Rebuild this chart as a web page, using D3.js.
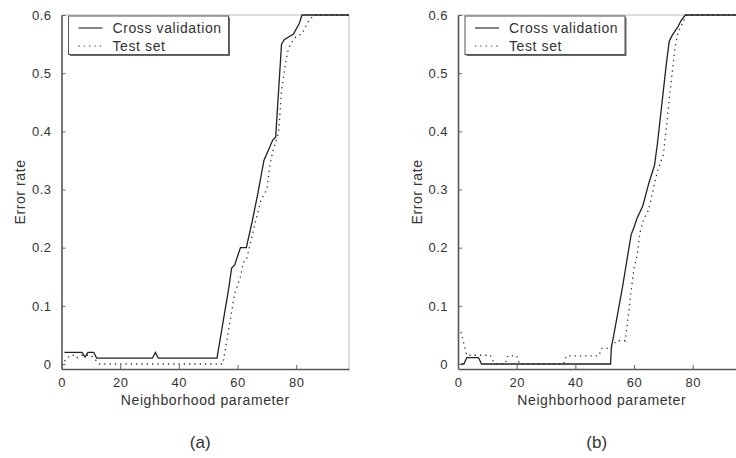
<!DOCTYPE html>
<html>
<head>
<meta charset="utf-8">
<script src="https://cdn.jsdelivr.net/npm/d3@7"></script>
<style>
  body { margin: 0; background: #fff; }
  svg { display: block; }
  text { font-family: "Liberation Sans", Arial, Helvetica, sans-serif; fill: #333; }
</style>
</head>
<body>
<svg id="chart" width="736" height="458"></svg>
<script>
// neighborhood parameter vs error rate
var xTicks = [0, 20, 40, 60, 80],
    yTicks = [0, 0.1, 0.2, 0.3, 0.4, 0.5, 0.6],
    seriesNames = ["Cross validation", "Test set"],
    captions = ["(a)", "(b)"];

// panel (a)
var cvA = [[1,0.02],[7,0.02],[8,0.012],[9,0.02],[11,0.02],[12,0.01],[31,0.01],[32,0.02],[33,0.01],
  [53,0.01],[57,0.13],[58,0.165],[59,0.17],[61,0.2],[63,0.2],[65,0.245],[67,0.295],[69,0.35],
  [72,0.385],[73,0.39],[74,0.47],[75,0.55],[76,0.558],[79,0.567],[81,0.585],[82,0.6],[98,0.6]];
var testA = [[1,0.005],[3,0.015],[4,0.015],[5,0.01],[7,0.015],[10,0.015],[13,0],[55,0],[57,0.06],
  [59,0.12],[61,0.15],[62,0.175],[63,0.178],[66,0.242],[68,0.282],[70,0.3],[71,0.34],[72,0.365],
  [74,0.398],[75,0.47],[76,0.505],[77,0.535],[78,0.55],[80,0.563],[82,0.568],[84,0.588],[86,0.6],[98,0.6]];

// panel (b)
var cvB = [[1,0],[2,0],[3,0.011],[7,0.011],[8,0],[52,0],[52.3,0.03],[53,0.047],[56,0.13],[59,0.222],
  [60,0.235],[61,0.25],[63,0.272],[65,0.31],[67,0.342],[68,0.38],[69,0.425],[70,0.47],[71,0.515],
  [72,0.555],[73,0.565],[75,0.58],[76,0.59],[77.5,0.6],[98,0.6]];
var testB = [[1,0.055],[2,0.035],[3,0.015],[11,0.015],[12,0.005],[13,0],[16,0],[17,0.014],[20,0.014],
  [21,0],[36,0],[37,0.014],[48,0.014],[49,0.027],[52,0.027],[54,0.04],[57,0.04],[58,0.08],[59,0.125],
  [60,0.165],[61,0.185],[62,0.225],[63,0.245],[65,0.265],[66,0.288],[67,0.31],[68,0.332],[70,0.36],
  [71,0.405],[72,0.455],[73,0.5],[74,0.545],[75,0.57],[76,0.58],[77,0.591],[78,0.6],[98,0.6]];

var svg = d3.select("#chart");

var panels = [
  { left: 61.5, cv: cvA, test: testA },
  { left: 458, cv: cvB, test: testB }
];

var plotTop = 15, plotBottom = 369, plotW = 287.5;
var yFmt = function(d){ return d === 0 ? "0" : d3.format(".1f")(d); };

panels.forEach(function(p, i){
  var x = d3.scaleLinear().domain([0, 98]).range([p.left, p.left + plotW]);
  var y = d3.scaleLinear().domain([-0.0086, 0.6]).range([plotBottom, plotTop]);
  var g = svg.append("g");

  // light box edges (top, right)
  g.append("line").attr("x1", x(0)).attr("x2", x(98)).attr("y1", plotTop).attr("y2", plotTop)
    .attr("stroke", "#bbb").attr("stroke-width", 1);
  g.append("line").attr("x1", x(98)).attr("x2", x(98)).attr("y1", plotTop).attr("y2", plotBottom)
    .attr("stroke", "#bbb").attr("stroke-width", 1);

  var yAxis = g.append("g")
    .attr("transform", "translate(" + x(0) + ",0)")
    .call(d3.axisLeft(y).tickValues(yTicks).tickFormat(yFmt).tickSize(-4).tickSizeOuter(0).tickPadding(10));
  var xAxis = g.append("g")
    .attr("transform", "translate(0," + plotBottom + ")")
    .call(d3.axisBottom(x).tickValues(xTicks).tickSize(-4).tickSizeOuter(0).tickPadding(9));

  [yAxis, xAxis].forEach(function(a){
    a.select(".domain").attr("stroke", "#555").attr("stroke-width", 1.6);
    a.selectAll(".tick line").attr("stroke", "#666");
    a.selectAll(".tick text").attr("fill", "#333")
      .style("font-family", "'Liberation Sans', Arial, sans-serif")
      .style("font-size", "13px").style("letter-spacing", "0.5px");
  });

  var line = d3.line().x(function(d){ return x(d[0]); }).y(function(d){ return y(d[1]); });

  g.append("path").datum(p.test).attr("d", line)
    .attr("fill", "none").attr("stroke", "#333").attr("stroke-width", 1.3)
    .attr("stroke-dasharray", "1.3,4");
  g.append("path").datum(p.cv).attr("d", line)
    .attr("fill", "none").attr("stroke", "#222").attr("stroke-width", 1.3);

  // legend
  var lx = x(0) + 7, ly = plotTop + 1;
  g.append("rect").attr("x", lx + 1.5).attr("y", ly + 1.5).attr("width", 160).attr("height", 38.5)
    .attr("fill", "#666");
  g.append("rect").attr("x", lx).attr("y", ly).attr("width", 160).attr("height", 38.5)
    .attr("fill", "#fff").attr("stroke", "#555").attr("stroke-width", 1);
  seriesNames.forEach(function(name, j){
    var yy = ly + 12 + j * 18;
    g.append("line").attr("x1", lx + 10).attr("x2", lx + 34).attr("y1", yy).attr("y2", yy)
      .attr("stroke", "#333").attr("stroke-width", 1.2)
      .attr("stroke-dasharray", j === 1 ? "1.3,4" : null);
    g.append("text").attr("x", lx + 44).attr("y", yy + 5)
      .style("font-size", "14px").style("letter-spacing", "0.6px").text(name);
  });

  // labels
  g.append("text")
    .attr("transform", "translate(" + (x(0) - 36.5) + "," + ((plotTop + plotBottom) / 2) + ") rotate(-90)")
    .attr("text-anchor", "middle")
    .style("font-size", "14px").style("letter-spacing", "0.6px").text("Error rate");
  g.append("text").attr("x", p.left + plotW / 2).attr("y", 405).attr("text-anchor", "middle")
    .style("font-size", "14px").style("letter-spacing", "0.6px").text("Neighborhood parameter");
  g.append("text").attr("x", p.left + plotW / 2 - 5).attr("y", 448).attr("text-anchor", "middle")
    .style("font-size", "17px").text(captions[i]);
});
</script>
</body>
</html>
